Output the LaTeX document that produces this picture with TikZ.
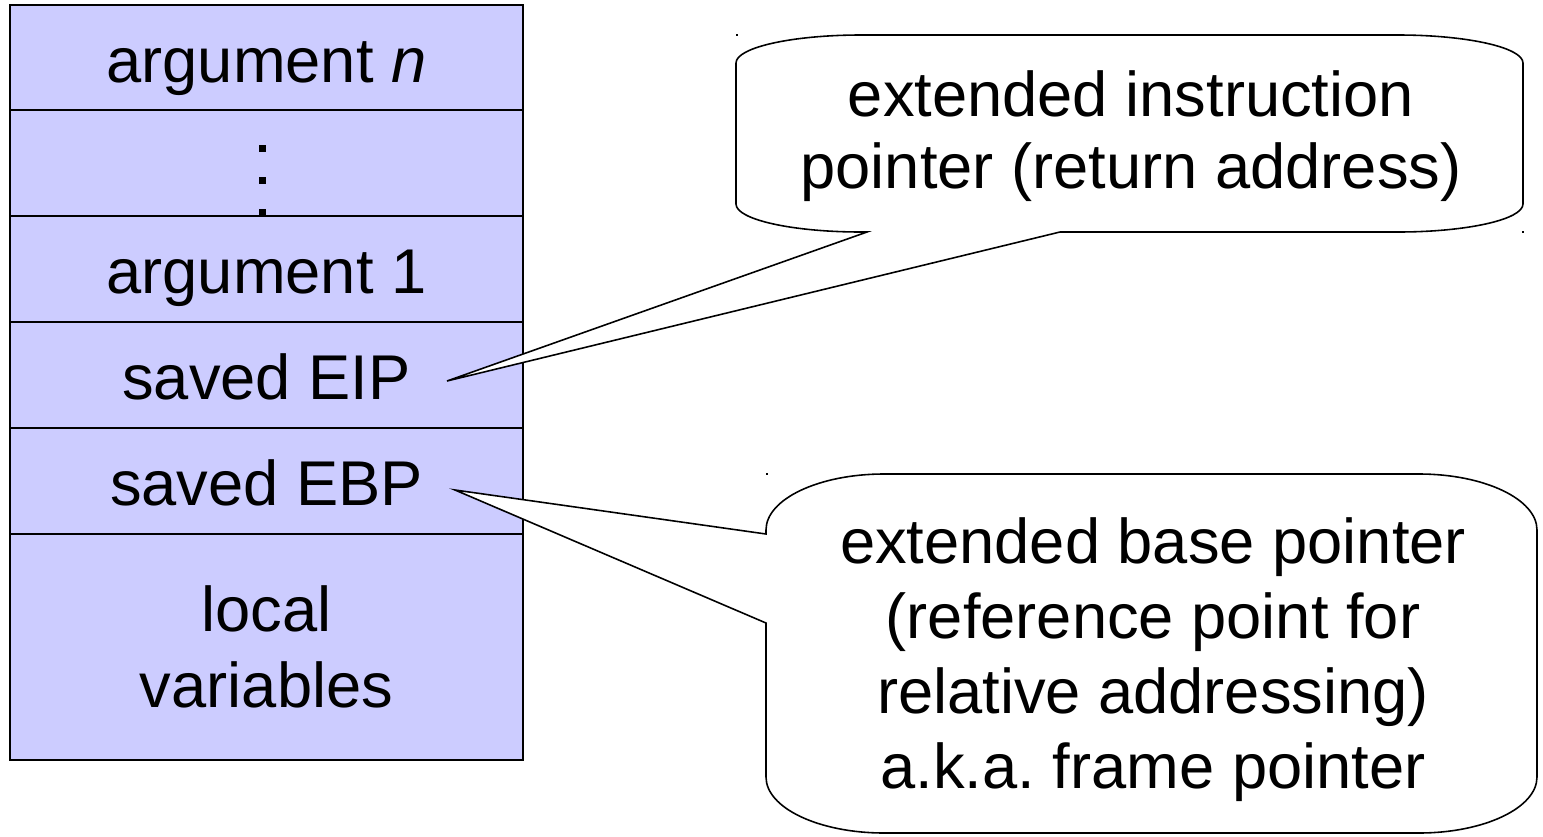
\documentclass[tikz,border=0pt]{standalone}
\usepackage{fontspec}
\setmainfont{Liberation Sans}
\frenchspacing
\definecolor{stackfill}{HTML}{CCCCFF}
\begin{document}
\begin{tikzpicture}[x=0.02cm,y=-0.02cm,
  row/.style={draw=black, fill=stackfill, line width=1.6pt, minimum width=513*0.02cm, inner sep=0pt, align=center,
    font=\fontsize{36}{43.6}\selectfont},
  oneline/.style={text height=28pt, text depth=0pt},
  callout/.style={draw=black, fill=white, line width=0.9pt, line join=miter},
  ctext/.style={align=center, inner sep=0pt},
  speck/.style={fill=black, inner sep=0pt, minimum size=1.2pt}]
\useasboundingbox (0,0) rectangle (1543,836);
% stack
\node[row, oneline, minimum height=105*0.02cm] (r1) at (266.5,57.5) {argument \textit{n}};
\node[row, minimum height=106*0.02cm] (r2) at (266.5,163) {};
\node[row, oneline, minimum height=106*0.02cm] (r3) at (266.5,269) {argument 1};
\node[row, oneline, minimum height=106*0.02cm] (r4) at (266.5,375) {saved EIP};
\node[row, oneline, minimum height=106*0.02cm] (r5) at (266.5,481) {saved EBP};
\node[row, minimum height=226*0.02cm] (r6) at (266.5,647) {local\\variables};
\foreach \yy [count=\i] in {148,180,212}{
  \node[fill=black, inner sep=0pt, minimum size=7*0.02cm] (dot\i) at (262,\yy) {};
}
% tip coordinates
\coordinate (tipEIP) at (447,381);
\coordinate (tipEBP) at (455,490);
% callout 1
\draw[callout] (867,232) -- (tipEIP) -- (1060,232) -- (1398,232)
  .. controls (1467,232) and (1523,219.5) .. (1523,204) -- (1523,63)
  .. controls (1523,47.5) and (1467,35) .. (1398,35) -- (861,35)
  .. controls (792,35) and (736,47.5) .. (736,63) -- (736,204)
  .. controls (736,219.5) and (792,232) .. (861,232) -- cycle;
\node[ctext, font=\fontsize{36}{40.8}\selectfont] (c1) at (1131,136) {extended instruction\\pointer (return address)};
% callout 2
\draw[callout] (766,530) -- (766,534) -- (tipEBP) -- (766,623) -- (766,777)
  .. controls (766,808) and (819,833) .. (884,833) -- (1419,833)
  .. controls (1484,833) and (1537,808) .. (1537,777) -- (1537,530)
  .. controls (1537,499) and (1484,474) .. (1419,474) -- (884,474)
  .. controls (819,474) and (766,499) .. (766,530) -- cycle;
\node[ctext, font=\fontsize{36}{42.7}\selectfont] (c2) at (1153,660) {extended base pointer\\(reference point for\\relative addressing)\\a.k.a. frame pointer};
% specks
\node[speck] (s1) at (737,35) {};
\node[speck] (s2) at (1523,232) {};
\node[speck] (s3) at (767,474) {};
\end{tikzpicture}
\end{document}
